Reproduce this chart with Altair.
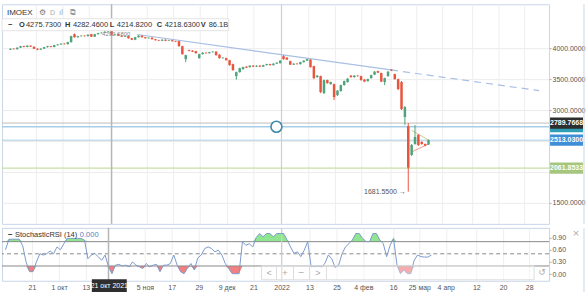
import json
import altair as alt
import pandas as pd

# ---------------- data ----------------
OPEN = [3976, 3992, 3984, 4008, 4032, 4019, 4040, 4024, 3992, 3976,
        3992, 4016, 4032, 4019, 4048, 4060, 4073, 4065, 4097, 4226,
        4177, 4194, 4202, 4194, 4226, 4186, 4226, 4242, 4250, 4266,
        4275.73, 4219, 4226, 4202, 4186, 4197, 4161, 4137, 4177, 4202,
        4177, 4161, 4169, 4145, 4129, 4121, 4137, 4121, 4129, 4113,
        4113, 4032, 3823, 3968, 3960, 3952, 3839, 3903, 3927, 3919,
        3935, 3944, 3895, 3839, 3839, 3806, 3742, 3548, 3613, 3661,
        3702, 3694, 3718, 3702, 3718, 3702, 3726, 3742, 3726, 3750,
        3758, 3871, 3847, 3790, 3734, 3750, 3742, 3774, 3798, 3815,
        3710, 3532, 3548, 3274, 3484, 3419, 3419, 3242, 3306, 3403,
        3452, 3556, 3532, 3556, 3548, 3492, 3468, 3516, 3573, 3629,
        3597, 3452, 3548, 3653, 3581, 3500, 3452, 2887, 2740, 2274,
        2452, 2597, 2484, 2452, 2443]
HIGH = [3998, 3997, 4014, 4038, 4037, 4047, 4046, 4029, 3998, 3999,
        4022, 4038, 4036, 4054, 4066, 4079, 4079, 4103, 4202, 4236,
        4200, 4208, 4208, 4224, 4232, 4232, 4248, 4256, 4278, 4292.68,
        4282.46, 4232, 4231, 4207, 4203, 4203, 4167, 4183, 4208, 4207,
        4182, 4175, 4175, 4150, 4135, 4143, 4142, 4135, 4135, 4119,
        4119, 4038, 3895, 3975, 3966, 3958, 3910, 3933, 3933, 3941,
        3950, 3950, 3901, 3853, 3846, 3812, 3750, 3621, 3685, 3700,
        3708, 3724, 3724, 3724, 3724, 3732, 3748, 3748, 3756, 3772,
        3806, 3887, 3853, 3798, 3756, 3756, 3780, 3804, 3829, 3821,
        3716, 3564, 3556, 3492, 3492, 3460, 3427, 3322, 3411, 3476,
        3516, 3564, 3564, 3564, 3556, 3500, 3508, 3573, 3629, 3637,
        3605, 3524, 3629, 3661, 3589, 3508, 3468, 3065, 2789.77, 2452,
        2758, 2613, 2495, 2460, 2525]
LOW = [3970, 3979, 3978, 4003, 4014, 4013, 4018, 3986, 3968, 3970,
       3987, 4010, 4013, 4014, 4043, 4055, 4059, 4060, 4091, 4170,
       4171, 4188, 4189, 4189, 4180, 4180, 4220, 4237, 4244, 4258,
       4214.82, 4210, 4196, 4180, 4180, 4155, 4130, 4130, 4171, 4171,
       4155, 4155, 4139, 4123, 4115, 4115, 4115, 4115, 4107, 4099,
       4026, 3895, 3774, 3949, 3938, 3912, 3830, 3897, 3913, 3913,
       3929, 3880, 3832, 3832, 3800, 3718, 3637, 3492, 3605, 3653,
       3678, 3688, 3695, 3695, 3695, 3695, 3720, 3720, 3720, 3744,
       3752, 3815, 3808, 3726, 3728, 3736, 3736, 3768, 3792, 3686,
       3500, 3524, 3274, 3258, 3427, 3411, 3161, 3226, 3298, 3395,
       3444, 3524, 3524, 3540, 3476, 3452, 3460, 3508, 3565, 3597,
       3452, 3403, 3540, 3630, 3492, 3323, 3000, 2758, 1681.55, 2258,
       2440, 2420, 2440, 2415, 2435]
CLOSE = [3992, 3984, 4008, 4032, 4019, 4040, 4024, 3992, 3976, 3992,
         4016, 4032, 4019, 4048, 4060, 4073, 4065, 4097, 4194, 4177,
         4194, 4202, 4194, 4218, 4186, 4226, 4242, 4250, 4266, 4274,
         4218.63, 4226, 4202, 4186, 4197, 4161, 4137, 4177, 4202, 4177,
         4161, 4169, 4145, 4129, 4121, 4137, 4121, 4129, 4113, 4105,
         4032, 3903, 3887, 3955, 3944, 3919, 3903, 3927, 3919, 3935,
         3944, 3887, 3839, 3847, 3806, 3726, 3645, 3613, 3677, 3694,
         3685, 3718, 3702, 3718, 3702, 3726, 3742, 3726, 3750, 3766,
         3798, 3823, 3815, 3734, 3750, 3742, 3774, 3798, 3823, 3694,
         3516, 3556, 3290, 3484, 3435, 3452, 3210, 3314, 3403, 3468,
         3508, 3532, 3556, 3548, 3484, 3460, 3500, 3564, 3621, 3605,
         3460, 3516, 3621, 3640, 3500, 3339, 3016, 3048, 2070, 2435,
         2565, 2435, 2452, 2427, 2516]
STOCH = [0.60, 0.86, 0.86, 0.86, 0.86, 0.70, 0.30, 0.06, 0.06, 0.30,
         0.50, 0.47, 0.50, 0.57, 0.50, 0.67, 0.60, 0.75, 0.88, 0.88,
         0.88, 0.88, 0.88, 0.84, 0.38, 0.47, 0.51, 0.43, 0.34, 0.47,
         0.18, 0.01, 0.22, 0.24, 0.20, 0.22, 0.18, 0.30, 0.22, 0.18,
         0.14, 0.26, 0.18, 0.22, 0.24, 0.06, 0.22, 0.22, 0.26, 0.47,
         0.22, 0.06, 0.01, 0.15, 0.26, 0.10, 0.40, 0.47, 0.63, 0.67,
         0.63, 0.55, 0.59, 0.47, 0.26, 0.14, 0.01, 0.01, 0.01, 0.80,
         0.71, 0.75, 0.67, 0.90, 1.00, 0.92, 1.00, 1.00, 0.92, 1.00,
         1.00, 1.00, 0.84, 0.67, 0.51, 0.55, 0.43, 0.59, 0.80, 0.18,
         0.19, 0.19, 0.18, 0.26, 0.47, 0.38, 0.16, 0.22, 0.50, 0.67,
         0.75, 0.84, 1.00, 1.00, 0.88, 0.80, 0.80, 1.00, 1.00, 0.84,
         0.75, 0.43, 0.71, 0.88, 0.22, 0.01, 0.10, 0.01, 0.01, 0.34,
         0.47, 0.43, 0.42, 0.42, 0.47]

TICK_POS = [7.7, 15.6, 23.4, 40.6, 48.4, 56.3, 64.4, 72.2, 80.4, 88.5,
            96.4, 104.2, 112.9, 120.5, 128.2, 137.1, 144.9, 152.5]
TICK_LABELS = ["21", "1 окт", "13", "5 ноя", "17", "29", "9 дек", "21", "2022", "13",
               "25", "4 фев", "16", "25 мар", "4 апр", "12", "20", "28"]
PRICE_TICKS = [1500, 2000, 2500, 3000, 3500, 4000]
PRICE_HIDDEN = [2000, 2500]
STOCH_TICKS = [0.0, 0.3, 0.6, 0.9]
STOCH_BANDS = [0.8, 0.2]
STOCH_MID = [0.5]

LEVEL_BLACK = 2789.7668
LEVEL_TEAL = 2730.2070
LEVEL_BLUE = 2513.03
LEVEL_GREEN = 2061.8533

TREND_SOLID_I = [37.65, 112.9]
TREND_SOLID_P = [4221, 3648]
TREND_DASH_I = [112.9, 156.8]
TREND_DASH_P = [3648, 3314]
TRI_UP_I = [119.0, 124.0]
TRI_UP_P = [2672, 2516]
TRI_LO_I = [119.0, 124.0]
TRI_LO_P = [2323, 2452]
HANDLE_I = [78.9]
HANDLE_P = [2730.2070]

CROSS_I = [30]
YEAR_I = [80.4]

HIGH_NOTE = ("4292.6800", 27.2, 4236)
LOW_NOTE = ("1681.5500 →", 117.3, 1681.55)

OHLC_TEXT = [("−", True), ("O", True), ("4275.7300", False), ("H", True), ("4282.4600", False),
             ("L", True), ("4214.8200", False), ("C", True), ("4218.6300", False),
             ("V", True), ("86.1B", False)]

# ---------------- chart ----------------
N = len(CLOSE)
candles = pd.DataFrame({"i": list(range(N)), "o": OPEN, "h": HIGH, "l": LOW, "c": CLOSE})
stoch = pd.DataFrame({"i": list(range(N)), "v": STOCH})

W, H1, H2 = 548, 220, 53
FONT = "Liberation Sans"
GREEN = "#4fa37b"
RED = "#e8553f"
GRID = "#eeeeee"
FRAME = "#c9d6e8"

xs = alt.Scale(domain=[-1.017, 158.28], nice=False, zero=False)
ps = alt.Scale(domain=[1161, 4710], nice=False, zero=False)
ss = alt.Scale(domain=[-0.165, 1.14], nice=False, zero=False)

label_expr = "%s[indexof(%s, datum.value)]" % (json.dumps(TICK_LABELS, ensure_ascii=False),
                                                json.dumps(TICK_POS))
x_axis_st = alt.Axis(values=TICK_POS, labelExpr=label_expr, ticks=False, domain=False,
                     grid=True, gridColor=GRID, labelFontSize=7, labelColor="#555555",
                     labelPadding=3, labelOverlap=False, labelFlush=False, title=None,
                     labelFont=FONT)
p_label_expr = "indexof(%s, datum.value) >= 0 ? '' : format(datum.value, '.4f')" % json.dumps(PRICE_HIDDEN)
p_axis = alt.Axis(orient="right", values=PRICE_TICKS, labelExpr=p_label_expr, grid=True,
                  gridColor="#ececec", domain=False, tickSize=2, tickColor="#aaaaaa",
                  labelFontSize=7, labelColor="#555555", labelPadding=1, title=None,
                  labelFont=FONT)
s_axis = alt.Axis(orient="right", values=STOCH_TICKS, format=".2f", grid=False,
                  domain=False, tickSize=2, tickColor="#aaaaaa", labelFontSize=7,
                  labelColor="#555555", labelPadding=1, title=None, labelFont=FONT)


def XM(f="i"):
    return alt.X(f"{f}:Q", scale=xs, axis=None)


def XS(f="i"):
    return alt.X(f"{f}:Q", scale=xs, axis=x_axis_st)


def YP(f="p"):
    return alt.Y(f"{f}:Q", scale=ps, axis=p_axis)


def YS(f="v"):
    return alt.Y(f"{f}:Q", scale=ss, axis=s_axis)


def one():
    return pd.DataFrame({"a": [0]})


def txt(s, x, y, size=7.5, color="#333333", weight="normal", align="left", font=FONT):
    return alt.Chart(pd.DataFrame({"t": [s]})).mark_text(
        align=align, baseline="middle", fontSize=size, color=color, fontWeight=weight, font=font
    ).encode(x=alt.value(x), y=alt.value(y), text="t:N")


def box(x1, y1, x2, y2, fill, stroke=None, opacity=1.0, sw=1):
    kw = dict(fill=fill, fillOpacity=opacity)
    if stroke:
        kw.update(stroke=stroke, strokeWidth=sw)
    return alt.Chart(one()).mark_rect(**kw).encode(
        x=alt.value(x1), x2=alt.value(x2), y=alt.value(y1), y2=alt.value(y2))


def vline_px(x, y1, y2, color, sw=1):
    return alt.Chart(one()).mark_rule(color=color, strokeWidth=sw).encode(
        x=alt.value(x), y=alt.value(y1), y2=alt.value(y2))


cond = alt.condition("datum.c >= datum.o", alt.value(GREEN), alt.value(RED))

# main panel layers
vgrid_main = alt.Chart(pd.DataFrame({"i": TICK_POS})).mark_rule(color=GRID, strokeWidth=1).encode(x=XM())


def level(val, color, sw):
    return alt.Chart(pd.DataFrame({"p": [val]})).mark_rule(color=color, strokeWidth=sw).encode(y=YP("p"))


rules = [
    level(LEVEL_BLACK, "#bdbdbd", 1),
    level(LEVEL_TEAL, "#a8cde8", 1.6),
    level(LEVEL_BLUE, "#a8cde8", 1),
    level(LEVEL_GREEN, "#c9dda8", 1.3),
]
vlines_main = [
    alt.Chart(pd.DataFrame({"i": YEAR_I})).mark_rule(color="#cfcfcf", strokeWidth=1.2).encode(x=XM()),
    alt.Chart(pd.DataFrame({"i": CROSS_I})).mark_rule(color="#b5b5b5", strokeWidth=1.5).encode(x=XM()),
]
trend = [
    alt.Chart(pd.DataFrame({"i": TREND_SOLID_I, "p": TREND_SOLID_P})).mark_line(
        color="#a9bfe3", strokeWidth=1.2).encode(x=XM(), y=YP()),
    alt.Chart(pd.DataFrame({"i": TREND_DASH_I, "p": TREND_DASH_P})).mark_line(
        color="#a9bfe3", strokeWidth=1.2, strokeDash=[7, 5]).encode(x=XM(), y=YP()),
    alt.Chart(pd.DataFrame({"i": TRI_UP_I, "p": TRI_UP_P})).mark_line(
        color="#d3c98c", strokeWidth=1).encode(x=XM(), y=YP()),
    alt.Chart(pd.DataFrame({"i": TRI_LO_I, "p": TRI_LO_P})).mark_line(
        color="#f0968a", strokeWidth=1).encode(x=XM(), y=YP()),
]
wicks = alt.Chart(candles).mark_rule(strokeWidth=1).encode(x=XM(), y=YP("l"), y2="h:Q", color=cond)
bodies = alt.Chart(candles).mark_bar(size=2.5).encode(x=XM(), y=YP("o"), y2="c:Q", color=cond)

handle = alt.Chart(pd.DataFrame({"i": HANDLE_I, "p": HANDLE_P})).mark_point(
    shape="circle", size=121, filled=False, stroke="#3f89ab", strokeWidth=1.6, fill="white",
    fillOpacity=1, opacity=1).encode(x=XM(), y=YP())

notes = [
    alt.Chart(pd.DataFrame({"i": [HIGH_NOTE[1]], "p": [HIGH_NOTE[2]], "t": [HIGH_NOTE[0]]})).mark_text(
        align="left", baseline="middle", fontSize=6, color="#888888", font=FONT).encode(
        x=XM(), y=YP(), text="t:N"),
    alt.Chart(pd.DataFrame({"i": [LOW_NOTE[1]], "p": [LOW_NOTE[2]], "t": [LOW_NOTE[0]]})).mark_text(
        align="right", baseline="middle", fontSize=7, color="#555555", font=FONT).encode(
        x=XM(), y=YP(), text="t:N"),
]

BOX_SHAPE = "M-1,-0.34H1V0.34H-1Z"


def price_box(val, color):
    d = pd.DataFrame({"p": [val]})
    return alt.Chart(d).mark_point(shape=BOX_SHAPE, size=1089, filled=True, color=color,
                                   opacity=1).encode(x=alt.value(565.5), y=YP())


def price_text(val, label):
    d = pd.DataFrame({"p": [val], "t": [label]})
    return alt.Chart(d).mark_text(fontSize=7, color="white", fontWeight="bold", font=FONT,
                                  baseline="middle", align="center").encode(
        x=alt.value(565.5), y=YP(), text="t:N")


tags = [
    price_box(LEVEL_TEAL, "#2f9fb6"),
    price_box(LEVEL_BLACK, "#2e2e2e"), price_text(LEVEL_BLACK, "2789.7668"),
    price_box(LEVEL_BLUE, "#3f8fd8"), price_text(LEVEL_BLUE, "2513.0300"),
    price_box(LEVEL_GREEN, "#a5c67c"), price_text(LEVEL_GREEN, "2061.8533"),
]

header = [
    box(0, 14.5, 227, 26.5, "white", stroke="#e4e4e4"),
    txt("IMOEX", 5, 9, size=8, color="#333333"),
    txt("⚙", 37, 9, size=8, color="#777777", font="DejaVu Sans"),
    txt("D", 48, 9, size=7, color="#aaaaaa"),
    txt("ıl", 57, 9, size=8, color="#aaaaaa", font="DejaVu Sans"),
    txt("⧉", 68, 9, size=8, color="#999999", font="DejaVu Sans"),
]
ohlc_x = [6, 17, 24, 63, 71, 108, 115, 155, 163, 199, 207]
for (s, bold), xx in zip(OHLC_TEXT, ohlc_x):
    header.append(txt(s, xx, 21, size=7.5, color="#333333", weight="bold" if bold else "normal"))

frame_main = [vline_px(583, 0, H1, FRAME)]

main = alt.layer(
    vgrid_main, *rules, *vlines_main, *trend, wicks, bodies, handle, *notes, *tags, *header, *frame_main
).properties(width=W, height=H1)

# stochastic panel
green_area = alt.Chart(stoch).transform_calculate(
    top="max(datum.v, 0.8)", base="0.8").mark_area(color="#90e590", opacity=1).encode(
    x=XS(), y=YS("top"), y2="base:Q")
red_area = alt.Chart(stoch).transform_calculate(
    bot="min(datum.v, 0.2)", base="0.2").mark_area(color="#f28080", opacity=1).encode(
    x=XS(), y=YS("bot"), y2="base:Q")
bands = alt.Chart(pd.DataFrame({"v": STOCH_BANDS})).mark_rule(color="#8a8a8a", strokeWidth=1).encode(y=YS())
mid = alt.Chart(pd.DataFrame({"v": STOCH_MID})).mark_rule(color="#8a8a8a", strokeWidth=1,
                                                           strokeDash=[4, 3]).encode(y=YS())
sline = alt.Chart(stoch).mark_line(color="#7c9bcb", strokeWidth=1).encode(x=XS(), y=YS())
vlines_st = [
    alt.Chart(pd.DataFrame({"i": YEAR_I})).mark_rule(color="#cfcfcf", strokeWidth=1.2).encode(x=XS()),
    alt.Chart(pd.DataFrame({"i": CROSS_I})).mark_rule(color="#b5b5b5", strokeWidth=1.5).encode(x=XS()),
]
st_header = [
    txt("−", 6, 7, size=8, color="#333333", weight="bold"),
    txt("StochasticRSI (14)", 13, 7, size=7.5, color="#333333"),
    txt("0.000", 78, 7, size=7.5, color="#4e7fc4"),
    txt("×", 575, 5, size=9, color="#aaaaaa", align="center", font="DejaVu Sans"),
]
controls = [
    box(260, 38, 533, 52, "white", stroke="#dddddd", opacity=0.35),
    vline_px(275, 38, 52, "#dddddd"),
    vline_px(292, 38, 52, "#dddddd"),
    vline_px(308, 38, 52, "#dddddd"),
    vline_px(325, 38, 52, "#dddddd"),
    txt("<", 267.5, 45, size=9, color="#aaaaaa", align="center"),
    txt("+", 283.5, 45, size=10, color="#aaaaaa", align="center"),
    txt("−", 300, 45, size=10, color="#aaaaaa", align="center"),
    txt(">", 316.5, 45, size=9, color="#aaaaaa", align="center"),
    txt("↺", 541, 44, size=9, color="#aaaaaa", align="center", font="DejaVu Sans"),
]
cross_tag = [
    box(90, 51.5, 125, 64.5, "#2e2e2e"),
    txt("21 окт 2021", 107.5, 58, size=7, color="white", align="center"),
]
frame_st = [
    vline_px(583, 0.5, 65, FRAME),
    alt.Chart(one()).mark_rule(color=FRAME, strokeWidth=1).encode(
        x=alt.value(0), x2=alt.value(583), y=alt.value(65)),
]

st = alt.layer(
    green_area, red_area, bands, mid, *vlines_st, sline, *st_header, *controls, *cross_tag, *frame_st
).properties(width=W, height=H2)

chart = alt.vconcat(main, st, spacing=0).resolve_scale(
    x="independent", y="independent"
).properties(
    padding={"left": 0, "top": 2, "right": 0, "bottom": 0}
).configure(
    font=FONT, background="white"
).configure_view(
    stroke=FRAME, strokeWidth=1
)

chart.save("out.html", embed_options={"renderer": "svg", "actions": False})
